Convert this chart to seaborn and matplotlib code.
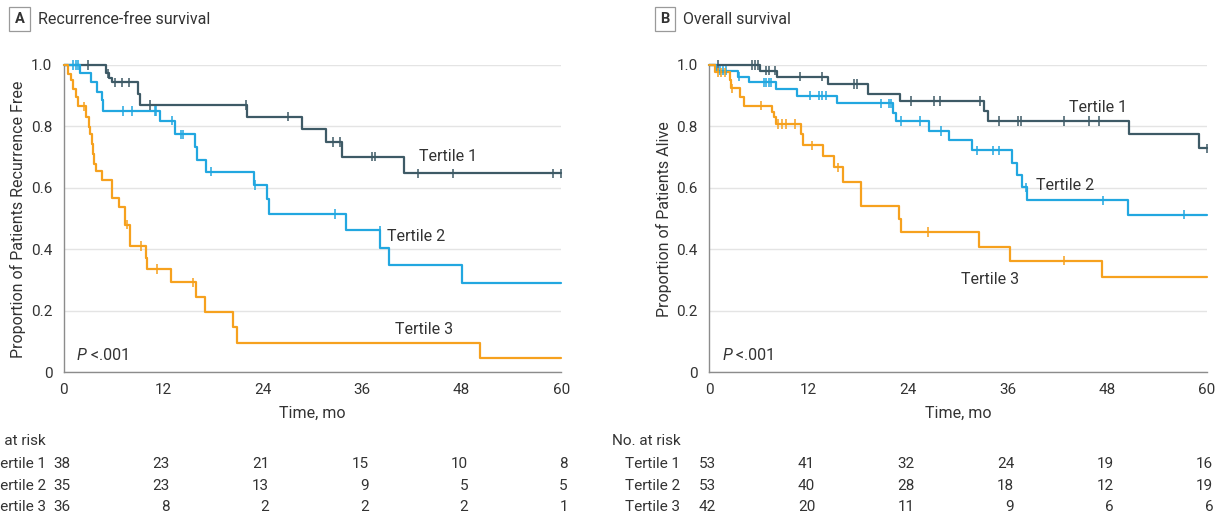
import numpy as np
import pandas as pd
import matplotlib
matplotlib.use("Agg")
import matplotlib.pyplot as plt
import matplotlib.transforms as mtransforms
from matplotlib import font_manager
import seaborn as sns

# ---------------- data ----------------
groups = ["Tertile 1", "Tertile 2", "Tertile 3"]
months_ticks = [0, 12, 24, 36, 48, 60]

# Panel A: recurrence-free survival (step times, survival after each step)
rfs_t1_time = [0, 5.1, 5.5, 5.9, 9.0, 9.2, 22.1, 28.8, 31.6, 33.6, 41.0, 60]
rfs_t1_surv = [1, 0.973, 0.958, 0.944, 0.906, 0.870, 0.832, 0.790, 0.749, 0.701, 0.647, 0.647]
rfs_t1_cens = [2.9, 5.4, 6.2, 7.1, 7.9, 10.4, 22.0, 27.1, 32.5, 33.3, 37.2, 37.6, 42.7, 46.9, 59.0, 60.0]

rfs_t2_time = [0, 2.0, 3.3, 4.0, 4.6, 4.8, 11.6, 13.4, 15.9, 16.1, 17.2, 23.0, 24.5, 24.8, 34.1, 38.2, 39.2, 48.0, 60]
rfs_t2_surv = [1, 0.973, 0.944, 0.912, 0.885, 0.850, 0.819, 0.774, 0.732, 0.692, 0.653, 0.609, 0.562, 0.515, 0.461, 0.404, 0.347, 0.290, 0.290]
rfs_t2_cens = [1.1, 1.5, 1.8, 7.2, 8.2, 11.0, 11.2, 13.1, 14.2, 14.4, 17.8, 23.1, 32.7, 38.1]

rfs_t3_time = [0, 0.5, 0.9, 1.2, 1.45, 1.8, 2.7, 3.1, 3.2, 3.4, 3.5, 3.7, 3.9, 4.6, 5.8, 6.7, 7.4, 8.0, 9.9, 10.1, 12.9, 16.0, 17.0, 20.4, 20.9, 50.2, 60]
rfs_t3_surv = [1, 0.972, 0.950, 0.922, 0.895, 0.865, 0.830, 0.797, 0.776, 0.743, 0.710, 0.677, 0.656, 0.627, 0.568, 0.537, 0.480, 0.410, 0.371, 0.336, 0.292, 0.243, 0.197, 0.146, 0.096, 0.047, 0.047]
rfs_t3_cens = [2.5, 7.6, 9.3, 11.3, 15.6]

# Panel B: overall survival
os_t1_time = [0, 6.1, 8.2, 14.4, 19.2, 23.0, 33.1, 33.6, 50.6, 59.1, 60]
os_t1_surv = [1, 0.981, 0.962, 0.938, 0.907, 0.883, 0.851, 0.818, 0.775, 0.729, 0.729]
os_t1_cens = [1.1, 5.2, 5.6, 5.9, 6.9, 7.2, 8.0, 11.0, 13.6, 17.5, 17.8, 24.3, 27.1, 27.9, 32.7, 34.9, 37.2, 37.6, 42.8, 45.8, 47.0, 60.0]

os_t2_time = [0, 0.85, 3.5, 4.8, 8.1, 10.6, 15.4, 22.2, 22.5, 26.5, 28.9, 31.7, 36.5, 37.1, 37.7, 38.3, 50.5, 60]
os_t2_surv = [1, 0.981, 0.962, 0.943, 0.922, 0.900, 0.875, 0.845, 0.818, 0.785, 0.755, 0.722, 0.682, 0.642, 0.602, 0.559, 0.513, 0.513]
os_t2_cens = [1.3, 1.7, 2.1, 3.6, 6.6, 6.9, 7.2, 7.5, 12.2, 13.2, 13.6, 14.1, 20.7, 21.7, 21.9, 23.1, 25.4, 28.0, 32.3, 34.2, 34.9, 38.2, 47.5, 57.2]

os_t3_time = [0, 0.7, 2.5, 2.7, 3.7, 4.2, 7.6, 7.8, 8.1, 11.1, 11.3, 13.8, 15.1, 16.2, 18.3, 22.9, 23.2, 32.6, 36.3, 47.4, 60]
os_t3_surv = [1, 0.976, 0.952, 0.924, 0.895, 0.868, 0.846, 0.830, 0.808, 0.776, 0.738, 0.702, 0.667, 0.618, 0.542, 0.497, 0.456, 0.407, 0.363, 0.311, 0.311]
os_t3_cens = [1.1, 1.5, 1.9, 2.8, 6.3, 8.3, 8.8, 9.3, 10.4, 12.4, 15.6, 26.4, 42.8]

# Numbers at risk
rfs_risk_t1 = [38, 23, 21, 15, 10, 8]
rfs_risk_t2 = [35, 23, 13, 9, 5, 5]
rfs_risk_t3 = [36, 8, 2, 2, 2, 1]
os_risk_t1 = [53, 41, 32, 24, 19, 16]
os_risk_t2 = [53, 40, 28, 18, 12, 19]
os_risk_t3 = [42, 20, 11, 9, 6, 6]

# Curve label positions (month, proportion)
rfs_label_pos = [(46.4, 0.703), (42.5, 0.441), (43.5, 0.137)]
os_label_pos = [(46.9, 0.862), (42.9, 0.606), (33.9, 0.301)]

# ---------------- style ----------------
colors = {"Tertile 1": "#3e5a66", "Tertile 2": "#22a7e0", "Tertile 3": "#f6a11e"}
TXT = "#333333"

sns.set_theme(style="white")
avail = {f.name for f in font_manager.fontManager.ttflist}
fam = [f for f in ["Liberation Sans Narrow", "Roboto", "DejaVu Sans"] if f in avail]
plt.rcParams["font.family"] = fam
plt.rcParams["text.color"] = TXT
plt.rcParams["axes.labelcolor"] = TXT
plt.rcParams["xtick.color"] = "#888888"
plt.rcParams["ytick.color"] = "#888888"
plt.rcParams["xtick.labelcolor"] = TXT
plt.rcParams["ytick.labelcolor"] = TXT

W, H = 1232, 521
fig = plt.figure(figsize=(W / 100, H / 100), dpi=100)


def fx(px):
    return px / W


def fy(py):
    return 1 - py / H


def long_df(times, survs):
    rows = []
    for g, t, s in zip(groups, times, survs):
        for ti, si in zip(t, s):
            rows.append((g, ti, si))
    return pd.DataFrame(rows, columns=["group", "time", "surv"])


def cens_df(times, survs, cens):
    rows = []
    for g, t, s, c in zip(groups, times, survs, cens):
        t = np.asarray(t)
        s = np.asarray(s)
        for ci in c:
            idx = np.searchsorted(t, ci, side="right") - 1
            rows.append((g, ci, s[idx]))
    return pd.DataFrame(rows, columns=["group", "time", "surv"])


def panel(left_px, times, survs, cens, label_pos, risks, ylabel, letter, title,
          ylabel_px, risk_label_px, risk_header_px):
    ax = fig.add_axes([fx(left_px), fy(372), 0.4040, fy(65) - fy(372)])
    df = long_df(times, survs)
    sns.lineplot(data=df, x="time", y="surv", hue="group", palette=colors,
                 drawstyle="steps-post", estimator=None, sort=False,
                 legend=False, linewidth=1.6, ax=ax, clip_on=False, zorder=3)
    cdf = cens_df(times, survs, cens)
    sns.scatterplot(data=cdf, x="time", y="surv", hue="group", palette=colors,
                    marker="|", s=45, linewidth=1.1, legend=False, ax=ax,
                    clip_on=False, zorder=4)
    ax.set_xlim(0, 60)
    ax.set_ylim(0, 1.0)
    ax.set_xticks(months_ticks)
    ax.set_yticks([0, 0.2, 0.4, 0.6, 0.8, 1.0])
    ax.set_yticklabels(["0", "0.2", "0.4", "0.6", "0.8", "1.0"])
    ax.tick_params(axis="both", direction="out", length=4, width=0.8,
                   labelsize=11, pad=4)
    ax.grid(False)
    ax.yaxis.grid(True, color="#e4e4e4", linewidth=1.0)
    ax.set_axisbelow(True)
    for sp in ["top", "right"]:
        ax.spines[sp].set_visible(False)
    for sp in ["left", "bottom"]:
        ax.spines[sp].set_color("#8c8c8c")
        ax.spines[sp].set_linewidth(1.0)
    ax.set_xlabel("Time, mo", fontsize=11.5, labelpad=6)
    ax.set_ylabel("")
    fig.text(fx(ylabel_px), fy(219), ylabel, rotation=90, ha="center",
             va="center", fontsize=11.5, color=TXT)

    for g, (lx, ly) in zip(groups, label_pos):
        ax.text(lx, ly, g, ha="center", va="center", fontsize=11.5, color=TXT)

    pt = ax.text(1.6, 0.055, "P", style="italic", fontsize=11.5, color=TXT,
                 ha="left", va="center")
    ax.annotate(" <.001", xy=(1, 0.5), xycoords=pt, ha="left", va="center",
                fontsize=11.5, color=TXT)

    # panel title
    fig.text(fx(left_px - 44), fy(19), letter, fontsize=10.5, fontweight="bold",
             ha="center", va="center", color=TXT,
             bbox=dict(boxstyle="square,pad=0.35", fc="white", ec="#9a9a9a", lw=0.9))
    fig.text(fx(left_px - 26), fy(19), title, fontsize=11.5, ha="left",
             va="center", color=TXT)

    # risk table (panel A's row labels run off the left edge, as in the source)
    fig.text(fx(risk_header_px), fy(441), "No. at risk", fontsize=11,
             ha="left", va="center", color=TXT)
    trans = mtransforms.blended_transform_factory(ax.transData, fig.transFigure)
    for row_py, g, r in zip([464, 486, 507], groups, risks):
        fig.text(fx(risk_label_px), fy(row_py), g, fontsize=11, ha="right",
                 va="center", color=TXT)
        for t, n in zip(months_ticks, r):
            ax.text(t + 0.8, fy(row_py), str(n), transform=trans, fontsize=11,
                    ha="right", va="center", color=TXT, clip_on=False)
    return ax


panel(63.5,
      [rfs_t1_time, rfs_t2_time, rfs_t3_time],
      [rfs_t1_surv, rfs_t2_surv, rfs_t3_surv],
      [rfs_t1_cens, rfs_t2_cens, rfs_t3_cens],
      rfs_label_pos,
      [rfs_risk_t1, rfs_risk_t2, rfs_risk_t3],
      "Proportion of Patients Recurrence Free", "A", "Recurrence-free survival",
      18, 46, -23)

panel(709,
      [os_t1_time, os_t2_time, os_t3_time],
      [os_t1_surv, os_t2_surv, os_t3_surv],
      [os_t1_cens, os_t2_cens, os_t3_cens],
      os_label_pos,
      [os_risk_t1, os_risk_t2, os_risk_t3],
      "Proportion of Patients Alive", "B", "Overall survival",
      664, 680, 612)

fig.savefig("out.png", dpi=100)
